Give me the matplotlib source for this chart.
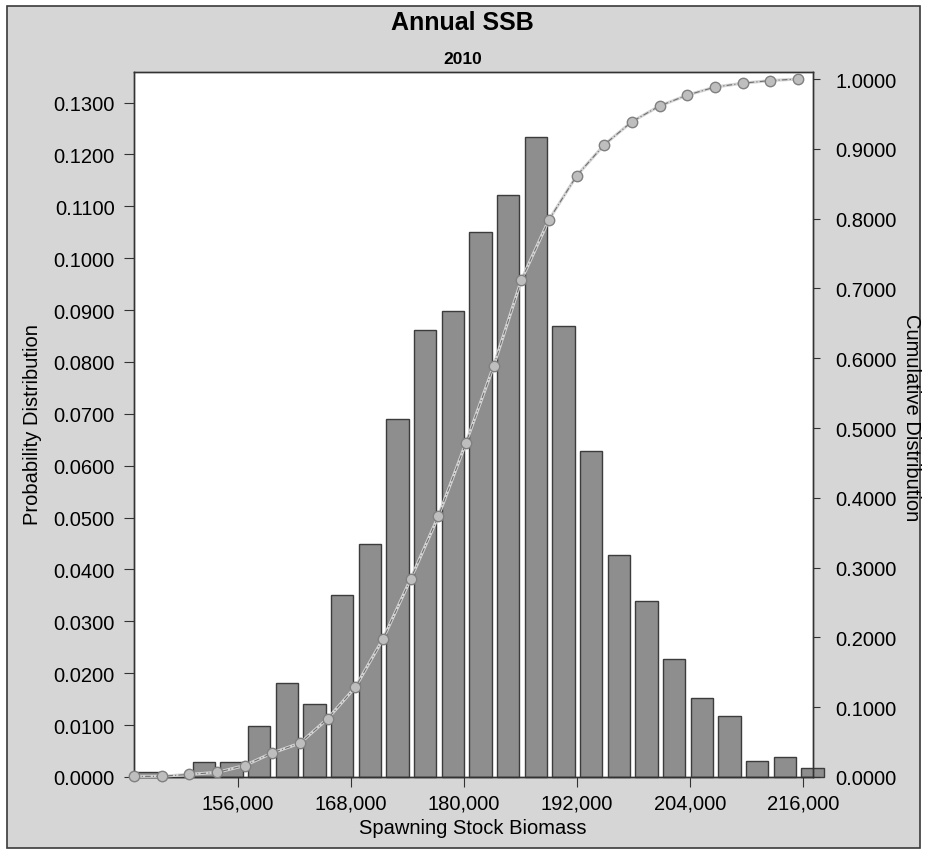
import matplotlib.pyplot as plt
import matplotlib.ticker as mticker
from matplotlib.patches import Rectangle
import numpy as np

plt.rcParams['font.family'] = ['Liberation Sans', 'DejaVu Sans']

# histogram of spawning stock biomass (25 bins)
bin_start = 145000
bin_width = 2935
prob = [0.0009, 0.0000, 0.0028, 0.0028, 0.0098, 0.0181, 0.0140, 0.0351,
        0.0450, 0.0691, 0.0862, 0.0899, 0.1051, 0.1122, 0.1234, 0.0869,
        0.0629, 0.0428, 0.0340, 0.0228, 0.0152, 0.0118, 0.0030, 0.0039,
        0.0017]
# cumulative distribution as drawn (one point per bin)
cum = [0.0009, 0.0010, 0.0038, 0.0066, 0.0164, 0.0345, 0.0485, 0.0836,
       0.1286, 0.1977, 0.2837, 0.3736, 0.4790, 0.5890, 0.7120, 0.7985,
       0.8615, 0.9060, 0.9390, 0.9615, 0.9770, 0.9885, 0.9940, 0.9978,
       1.0000]

x_ticks = [156000, 168000, 180000, 192000, 204000, 216000]
left_ticks = [0.00, 0.01, 0.02, 0.03, 0.04, 0.05, 0.06, 0.07, 0.08, 0.09,
              0.10, 0.11, 0.12, 0.13]
right_ticks = [0.0, 0.1, 0.2, 0.3, 0.4, 0.5, 0.6, 0.7, 0.8, 0.9, 1.0]

edges = bin_start + bin_width * np.arange(len(prob))

W, H = 925, 853
fig = plt.figure(figsize=(W / 100, H / 100), dpi=100, facecolor='white')

# gray panel with dark frame behind everything
fig.patches.append(Rectangle((7 / W, 4 / H), 913 / W, 842 / H,
                             transform=fig.transFigure, facecolor='#d6d6d6',
                             edgecolor='#3a3a3a', lw=1.2, zorder=-10))

ax = fig.add_axes([134 / W, 75 / H, 679 / W, 705.3 / H])
ax.set_facecolor('white')

ax.bar(edges + 0.12 * bin_width, prob, width=0.81 * bin_width, align='edge',
       color='#8e8e8e', edgecolor='#3c3c3c', lw=1.0, clip_on=False, zorder=2)

ax.set_xlim(145000, 217030)
ax.set_ylim(0, 0.13595)
ax.set_xticks(x_ticks)
ax.set_yticks(left_ticks)
ax.xaxis.set_major_formatter(mticker.StrMethodFormatter('{x:,.0f}'))
ax.yaxis.set_major_formatter(mticker.StrMethodFormatter('{x:.4f}'))
ax.tick_params(axis='x', length=7, pad=5, labelsize=14.5, color='#333333')
ax.tick_params(axis='y', length=7, pad=7, labelsize=14.5, color='#333333')

ax2 = ax.twinx()
ax2.set_ylim(0, 1.0105)
ax2.set_yticks(right_ticks)
ax2.yaxis.set_major_formatter(mticker.StrMethodFormatter('{x:.4f}'))
ax2.tick_params(axis='y', length=5, pad=11, labelsize=14.5, color='#333333')

ax2.plot(edges, cum, color='#d4d4d4', lw=2.2, clip_on=False, zorder=3)
ax2.plot(edges, cum, color='#707070', lw=0.8, ls=(0, (5, 2, 1, 2)),
         marker='o', ms=7.5, mfc='#bebebe', mec='#808080', mew=1.0,
         clip_on=False, zorder=4)

for a in (ax, ax2):
    for s in a.spines.values():
        s.set_color('#333333')
        s.set_linewidth(1.0)

# titles and axis labels
fig.text(0.5, 1 - 23 / H, 'Annual SSB', ha='center', va='center',
         fontsize=18, fontweight='bold')
fig.text(0.5, 1 - 59 / H, '2010', ha='center', va='center',
         fontsize=12.5, fontweight='bold')
fig.text(473 / W, 1 - 829 / H, 'Spawning Stock Biomass', ha='center',
         va='center', fontsize=14.5)
fig.text(33 / W, 1 - 425 / H, 'Probability Distribution', ha='center',
         va='center', rotation=90, fontsize=14.5)
fig.text(911 / W, 1 - 418 / H, 'Cumulative Distribution', ha='center',
         va='center', rotation=-90, fontsize=14.5)

fig.savefig('out.png', dpi=100, facecolor=fig.get_facecolor())
